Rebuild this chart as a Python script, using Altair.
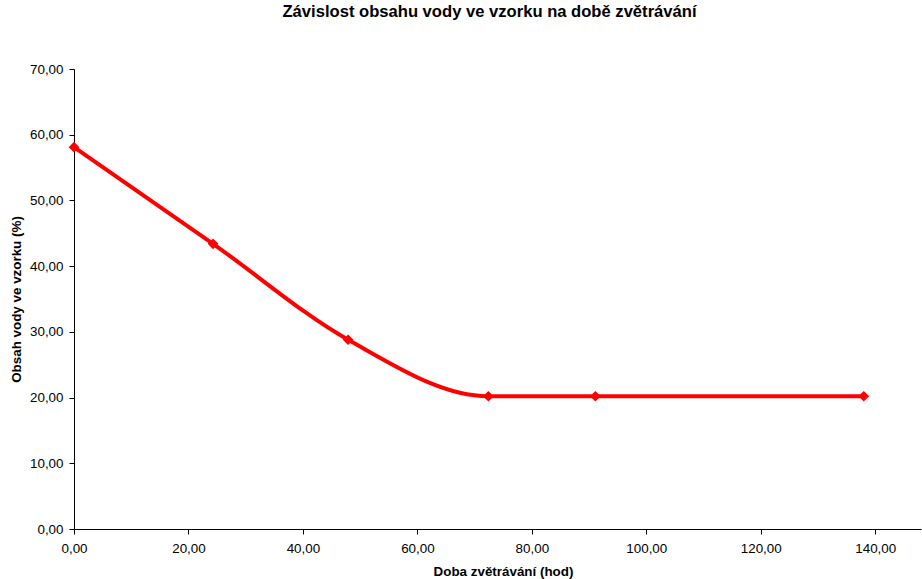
import altair as alt
import pandas as pd

# Drying time (hours) and water content of the sample (%)
hours = [0.0, 24.3, 47.9, 72.4, 91.1, 138.0]
water = [58.1, 43.4, 28.8, 20.2, 20.2, 20.2]

x_ticks = [0, 20, 40, 60, 80, 100, 120, 140]
y_ticks = [0, 10, 20, 30, 40, 50, 60, 70]

df = pd.DataFrame({"hod": hours, "voda": water})

font = "Liberation Sans"
comma_fmt = "replace(format(datum.value, '.2f'), '.', ',')"

x = alt.X(
    "hod:Q",
    scale=alt.Scale(domain=[0, 148], nice=False, zero=False),
    axis=alt.Axis(
        title="Doba zvětrávání (hod)",
        values=x_ticks,
        labelExpr=comma_fmt,
        labelFlush=False,
        grid=False,
        domainColor="#000000",
        tickColor="#000000",
        tickSize=5,
        labelFont=font,
        labelFontSize=13.4,
        labelColor="#000000",
        labelPadding=7,
        titleFont=font,
        titleFontSize=13.4,
        titleFontWeight="bold",
        titleColor="#000000",
        titleX=429,
        titleY=42,
        titleBaseline="middle",
    ),
)
y = alt.Y(
    "voda:Q",
    scale=alt.Scale(domain=[0, 70], nice=False),
    axis=alt.Axis(
        title="Obsah vody ve vzorku (%)",
        values=y_ticks,
        labelExpr=comma_fmt,
        labelFlush=False,
        grid=False,
        domainColor="#000000",
        tickColor="#000000",
        tickSize=5,
        labelFont=font,
        labelFontSize=13.4,
        labelColor="#000000",
        labelPadding=6,
        titleFont=font,
        titleFontSize=13.4,
        titleFontWeight="bold",
        titleColor="#000000",
        titleX=-58,
        titleY=230,
        titleAngle=-90,
        titleBaseline="middle",
    ),
)

line = alt.Chart(df).mark_line(
    color="#FF0000", strokeWidth=4, interpolate="monotone"
).encode(x=x, y=y)

points = alt.Chart(df).mark_point(
    shape="diamond", filled=True, size=115, color="#FF0000", opacity=1
).encode(x=x, y=y)

chart = (
    (line + points)
    .properties(
        width=847,
        height=460,
        background="#FFFFFF",
        title=alt.TitleParams(
            "Závislost obsahu vody ve vzorku na době zvětrávání",
            font=font,
            fontSize=16.6,
            fontWeight="bold",
            color="#000000",
            anchor="middle",
            offset=41,
            dx=-8,
        ),
        autosize=alt.AutoSizeParams(type="none"),
        padding={"left": 74, "top": 69, "right": 1, "bottom": 50},
    )
    .configure_view(stroke="transparent", strokeWidth=0)
)

chart.save("out.html", embed_options={"renderer": "svg", "actions": False})
